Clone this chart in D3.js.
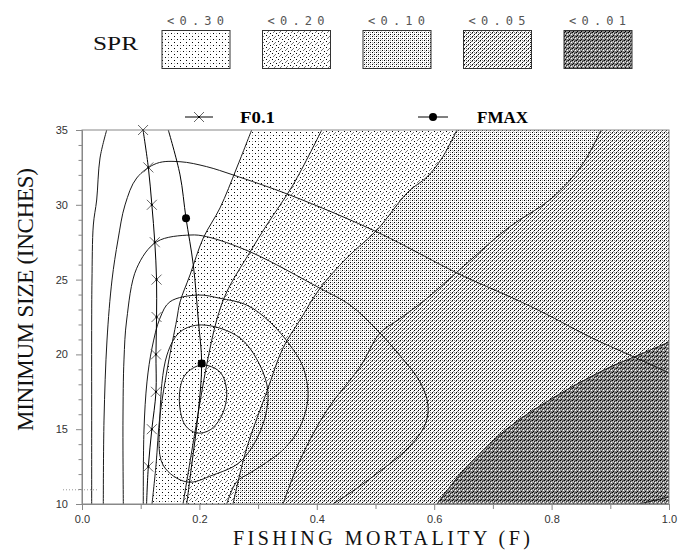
<!DOCTYPE html>
<html><head><meta charset="utf-8">
<script src="https://cdn.jsdelivr.net/npm/d3@7"></script>
<style>body{margin:0;background:#fff}</style>
</head><body><svg id="c" width="682" height="557"></svg>
<script>
// ---------------- DATA ----------------
const sprLabels = ["<0.30", "<0.20", "<0.10", "<0.05", "<0.01"];
const xTicks = [0, 0.2, 0.4, 0.6, 0.8, 1.0];
const xMinorTicks = [0.1, 0.3, 0.5, 0.7, 0.9];
const yTicks = [10, 15, 20, 25, 30, 35];
const yMinorTicks = [11,12,13,14,16,17,18,19,21,22,23,24,26,27,28,29,31,32,33,34];

// SPR boundaries [F, min size]
const spr30 = [[0.289,35],[0.2635,32.46],[0.2351,29.79],[0.2066,27.78],[0.184,25.31],[0.167,23.5],[0.1613,22.3],[0.1465,19.29],[0.1329,15.95],[0.1261,12.61],[0.1193,10]];
const spr20 = [[0.4084,35],[0.3594,31.32],[0.3147,28.65],[0.2862,26.84],[0.2465,24.17],[0.2295,22.3],[0.2124,19.29],[0.1925,14.81],[0.1721,10]];
const spr10 = [[0.6388,35],[0.6133,33.13],[0.5877,31.86],[0.5554,30.86],[0.5026,28.32],[0.4509,26.44],[0.4055,24.42],[0.3714,22.3],[0.3424,20.43],[0.3147,17.49],[0.2806,13.74],[0.2572,10]];
const spr05 = [[0.8842,35],[0.8518,32.66],[0.8007,30.45],[0.7257,28.45],[0.6388,25.5],[0.5843,23.64],[0.5383,22.3],[0.5077,21.43],[0.4736,19.16],[0.4174,16.28],[0.3714,12.94],[0.3424,10]];
const spr01 = [[1.0,20.83],[0.9404,19.83],[0.8961,19.09],[0.8109,17.29],[0.7257,15.08],[0.6474,12.14],[0.6048,10]];

// Yield isopleths [F, min size]
const yield6 = [[0.0421,35],[0.0307,33.13],[0.025,30.32],[0.0193,28.65],[0.017,24.97],[0.0165,22.3],[0.0165,15.6],[0.0165,10]];
const yield6b = [[0.9489,10],[1.0,10.47]];
const yield5 = [[0.0363,10],[0.0375,15.61],[0.0426,20.96],[0.0511,24.97],[0.0613,27.65],[0.0733,29.99],[0.0932,31.79],[0.1273,32.77],[0.167,32.88],[0.2124,32.55],[0.2578,31.99],[0.3543,30.65],[0.5077,28.09],[0.6388,25.44],[0.741,23.64],[0.7939,22.63],[0.8688,21.1],[0.9404,19.83],[1.0,18.76]];
const yield4 = [[0.0704,10],[0.0698,15.61],[0.0715,19.63],[0.0761,22.3],[0.0932,25.76],[0.1273,27.53],[0.184,27.98],[0.2124,27.87],[0.2862,26.86],[0.4055,24.42],[0.4566,23.3],[0.5026,21.63],[0.5451,19.76],[0.5758,18.16],[0.5894,16.62],[0.5843,15.28],[0.5554,13.74],[0.4991,11.94],[0.4566,10.74],[0.4276,10]];
const yield3 = [[0.1044,10],[0.1056,14.95],[0.1107,18.16],[0.1193,20.43],[0.1329,22.43],[0.1499,23.52],[0.1981,23.97],[0.2351,23.75],[0.2806,23.3],[0.3203,22.16],[0.3543,20.62],[0.3765,19.16],[0.385,17.15],[0.3714,15.15],[0.3458,13.74],[0.3203,12.94],[0.2862,12.07],[0.2635,11.49],[0.2465,10]];
const yield2 = [[0.2039,21.97],[0.2692,21.1],[0.3083,18.82],[0.3169,17.09],[0.3032,14.81],[0.2692,12.81],[0.2232,11.94],[0.1789,11.47],[0.138,12.61],[0.1329,15.95],[0.1448,19.96],[0.167,21.5]];
const yield1 = [[0.2039,19.29],[0.2351,18.82],[0.2465,17.49],[0.2385,15.95],[0.2181,14.95],[0.1954,14.75],[0.1755,15.28],[0.1658,17.09],[0.1755,18.62]];

// F0.1 and FMAX reference lines
const f01Line = [[0.104,35],[0.113,32.5],[0.119,30],[0.124,27.5],[0.127,25],[0.127,22.5],[0.126,20],[0.126,17.5],[0.119,15],[0.113,12.5],[0.110,10]];
const f01Markers = [[0.104,35],[0.113,32.5],[0.119,30],[0.124,27.5],[0.127,25],[0.127,22.5],[0.126,20],[0.126,17.5],[0.119,15],[0.113,12.5]];
const fmaxLine = [[0.147,35],[0.167,32.0],[0.1772,29.1],[0.1896,25.98],[0.1981,22.3],[0.2039,19.4],[0.1976,15.95],[0.1869,12.61],[0.1784,10]];
const fmaxMarkers = [[0.1772,29.1],[0.2039,19.4]];

// ---------------- DRAW ----------------
const svg = d3.select("#c");
const x = d3.scaleLinear().domain([0, 1]).range([82, 669]);
const y = d3.scaleLinear().domain([10, 35]).range([504, 130]);

// patterns
const defs = svg.append("defs");
function pat(id, size, bg, px) {
  const p = defs.append("pattern").attr("id", id).attr("patternUnits", "userSpaceOnUse")
    .attr("width", size).attr("height", size);
  p.append("rect").attr("width", size).attr("height", size).attr("fill", bg);
  px.forEach(d => p.append("rect").attr("x", d[0]).attr("y", d[1]).attr("width", 1).attr("height", 1).attr("fill", d[2]));
}
pat("p30", 6, "#fff", [[0,0,"#000"],[3,3,"#000"],[0,3,"#aaa"]]);
pat("p20", 6, "#fff", [[5,0,"#777"],[4,1,"#777"],[3,2,"#777"],[0,3,"#000"],[2,5,"#000"]]);
pat("p10", 4, "#fff", [[0,0,"#000"],[2,2,"#000"],[2,0,"#999"],[0,2,"#aaa"],[1,3,"#ccc"]]);
pat("p05", 4, "#fff", [[0,0,"#000"],[2,2,"#000"],[2,0,"#888"],[3,1,"#888"],[1,3,"#888"],[0,1,"#999"]]);
pat("p01", 4, "#8a8a8a", [[0,0,"#000"],[2,1,"#222"],[1,3,"#000"],[3,2,"#fff"],[1,1,"#ddd"],[3,0,"#555"]]);
const patIds = ["p30","p20","p10","p05","p01"];

defs.append("clipPath").attr("id", "plotclip").append("rect")
  .attr("x", x(0)).attr("y", y(35)).attr("width", x(1) - x(0)).attr("height", y(10) - y(35));

const line = d3.line().x(d => x(d[0])).y(d => y(d[1])).curve(d3.curveCatmullRom.alpha(0.5));
const closedLine = d3.line().x(d => x(d[0])).y(d => y(d[1])).curve(d3.curveCatmullRomClosed.alpha(0.5));

const plot = svg.append("g").attr("clip-path", "url(#plotclip)");
plot.append("rect").attr("x", x(0)).attr("y", y(35)).attr("width", x(1) - x(0)).attr("height", y(10) - y(35)).attr("fill", "#fff");

function region(boundary, corners) {
  return line(boundary) + corners.map(c => "L" + x(c[0]) + "," + y(c[1])).join("") + "Z";
}
const regions = [
  [spr30, [[1,10],[1,35]]],
  [spr20, [[1,10],[1,35]]],
  [spr10, [[1,10],[1,35]]],
  [spr05, [[1,10],[1,35]]],
  [spr01, [[1,10]]]
];
regions.forEach((r, i) => {
  plot.append("path").attr("d", region(r[0], r[1])).attr("fill", "url(#" + patIds[i] + ")");
});

const lineColor = "#1a1a1a";
[yield6, yield6b, yield5, yield4, yield3].forEach(d => {
  plot.append("path").attr("d", line(d)).attr("fill", "none").attr("stroke", lineColor).attr("stroke-width", 1);
});
[yield2, yield1].forEach(d => {
  plot.append("path").attr("d", closedLine(d)).attr("fill", "none").attr("stroke", lineColor).attr("stroke-width", 1);
});
[spr30, spr20, spr10, spr05, spr01].forEach(d => {
  plot.append("path").attr("d", line(d)).attr("fill", "none").attr("stroke", lineColor).attr("stroke-width", 1);
});

// F0.1 and FMAX lines
plot.append("path").attr("d", line(f01Line)).attr("fill", "none").attr("stroke", "#000").attr("stroke-width", 1);
plot.append("path").attr("d", line(fmaxLine)).attr("fill", "none").attr("stroke", "#000").attr("stroke-width", 1);

function cross(g, cx, cy) {
  const s = 5;
  g.append("path").attr("d", `M${cx - s},${cy - s}L${cx + s},${cy + s}M${cx - s},${cy + s}L${cx + s},${cy - s}`)
    .attr("stroke", "#666").attr("stroke-width", 1).attr("fill", "none");
  g.append("rect").attr("x", cx - 1).attr("y", cy - 1).attr("width", 2).attr("height", 2).attr("fill", "#000");
}
const mk = svg.append("g");
f01Markers.forEach(d => cross(mk, x(d[0]), y(d[1])));
fmaxMarkers.forEach(d => mk.append("circle").attr("cx", x(d[0])).attr("cy", y(d[1])).attr("r", 4).attr("fill", "#000"));

// axes
const axisColor = "#888";
function styleAxis(g) {
  g.select(".domain").attr("stroke", axisColor);
  g.selectAll(".tick line").attr("stroke", axisColor);
  g.selectAll(".tick text").attr("fill", "#333").attr("font-family", "Liberation Sans, Arial, sans-serif").attr("font-size", 11);
}
svg.append("g").attr("transform", `translate(0,${y(10)})`)
  .call(d3.axisBottom(x).tickValues(xMinorTicks).tickFormat("").tickSize(5).tickSizeOuter(0)).call(styleAxis);
svg.append("g").attr("transform", `translate(0,${y(10)})`)
  .call(d3.axisBottom(x).tickValues(xTicks).tickFormat(d3.format(".1f")).tickSize(6).tickPadding(5).tickSizeOuter(0)).call(styleAxis);
svg.append("g").attr("transform", `translate(${x(0)},0)`)
  .call(d3.axisLeft(y).tickValues(yMinorTicks).tickFormat("").tickSize(3.5).tickSizeOuter(0)).call(styleAxis);
svg.append("g").attr("transform", `translate(${x(0)},0)`)
  .call(d3.axisLeft(y).tickValues(yTicks).tickFormat(d3.format("d")).tickSize(6).tickPadding(8).tickSizeOuter(0)).call(styleAxis);

svg.append("rect").attr("x", x(0)).attr("y", y(35)).attr("width", x(1) - x(0)).attr("height", y(10) - y(35))
  .attr("fill", "none").attr("stroke", axisColor).attr("stroke-width", 1);

// stray dotted mark near the y-axis bottom
svg.append("line").attr("x1", 63).attr("x2", 97).attr("y1", y(10.95)).attr("y2", y(10.95))
  .attr("stroke", "#999").attr("stroke-dasharray", "1,2");

// axis titles
svg.append("text").attr("x", 233).attr("y", 545).attr("textLength", 297).attr("lengthAdjust", "spacing")
  .attr("font-family", "Liberation Serif, Times New Roman, serif").attr("font-size", 20).attr("fill", "#111")
  .text("FISHING MORTALITY (F)");
svg.append("text").attr("transform", "translate(33,431) rotate(-90)").attr("x", 0).attr("y", 0)
  .attr("textLength", 263).attr("lengthAdjust", "spacing")
  .attr("font-family", "Liberation Serif, Times New Roman, serif").attr("font-size", 23).attr("fill", "#111")
  .text("MINIMUM SIZE (INCHES)");

// SPR legend
svg.append("text").attr("x", 93).attr("y", 50).attr("textLength", 45).attr("lengthAdjust", "spacingAndGlyphs")
  .attr("font-family", "Liberation Serif, Times New Roman, serif").attr("font-size", 18).attr("fill", "#111").text("SPR");
const lg = svg.append("g");
sprLabels.forEach((lab, i) => {
  const bx = 162 + i * 100.5;
  lg.append("rect").attr("x", bx).attr("y", 30.5).attr("width", 68).attr("height", 38)
    .attr("fill", "url(#" + patIds[i] + ")").attr("stroke", "#333").attr("stroke-width", 1);
  lg.append("text").attr("x", bx + 5).attr("y", 25).attr("textLength", 57).attr("lengthAdjust", "spacing")
    .attr("font-family", "DejaVu Sans Mono, monospace").attr("font-size", 12).attr("fill", "#555").text(lab);
});

// F0.1 / FMAX legend
svg.append("line").attr("x1", 185).attr("x2", 213).attr("y1", 117).attr("y2", 117).attr("stroke", "#000");
cross(svg.append("g"), 199, 117);
svg.append("text").attr("x", 240).attr("y", 123).attr("textLength", 35).attr("lengthAdjust", "spacingAndGlyphs")
  .attr("font-family", "Liberation Serif, Times New Roman, serif").attr("font-weight", "bold").attr("font-size", 16).text("F0.1");
svg.append("line").attr("x1", 418).attr("x2", 448).attr("y1", 117).attr("y2", 117).attr("stroke", "#000");
svg.append("circle").attr("cx", 433).attr("cy", 117).attr("r", 4).attr("fill", "#000");
svg.append("text").attr("x", 477).attr("y", 123).attr("textLength", 51).attr("lengthAdjust", "spacingAndGlyphs")
  .attr("font-family", "Liberation Serif, Times New Roman, serif").attr("font-weight", "bold").attr("font-size", 16).text("FMAX");
</script>
</body></html>
